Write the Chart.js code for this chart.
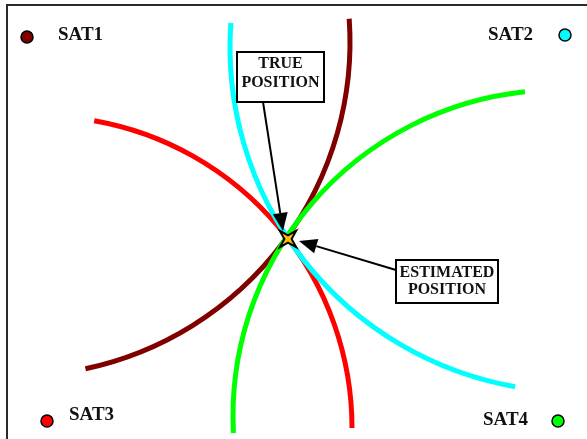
<!DOCTYPE html>
<html>
<head>
<meta charset="utf-8">
<script src="https://cdn.jsdelivr.net/npm/chart.js@4.4.1/dist/chart.umd.min.js"></script>
<style>
  html, body { margin: 0; padding: 0; background: #fff; }
  #wrap { width: 587px; height: 439px; position: relative; }
</style>
</head>
<body>
<div id="wrap"><canvas id="chartGps"></canvas></div>
<script>
// satellites (drawing units = picture pixels, y downwards)
const satNames = ["SAT1", "SAT2", "SAT3", "SAT4"];
const satX = [27, 565, 47, 558];
const satY = [37, 35, 421, 421];
const satColors = ["#800000", "#00FFFF", "#FF0000", "#00FF00"];

// range arcs: circle centre, radius and the visible part (degrees)
const arcCx = [16, 575, 40, 559];
const arcCy = [42, 47, 428, 416];
const arcR = [334, 345, 312, 326];
const arcFrom = [-4, 100, -80, 177];
const arcTo = [78, 184, 0, 264];
const arcOrder = [0, 2, 3, 1];

// estimated position
const estX = [288];
const estY = [239];

// label layout
const satLabelPos = [
  { x: 58, y: 40 }, { x: 488, y: 40 }, { x: 69, y: 420 }, { x: 483, y: 425 },
];
const boxes = [
  { x0: 237, y0: 52, x1: 324, y1: 102, lines: ["TRUE", "POSITION"], base: [68, 87],
    arrowFrom: [263, 102], arrowTo: [283, 231] },
  { x0: 396, y0: 260, x1: 498, y1: 303, lines: ["ESTIMATED", "POSITION"], base: [277, 294],
    arrowFrom: [396, 270], arrowTo: [299, 241] },
];

// star marker as point style
const star = document.createElement("canvas");
star.width = 26; star.height = 26;
(function () {
  const c = star.getContext("2d");
  const m = 13, tip = 11.5, inner = 3.6;
  c.beginPath();
  for (let k = 0; k < 8; k++) {
    const a = Math.PI / 4 + k * Math.PI / 4;
    const r = k % 2 === 0 ? tip : inner;
    const px = m + r * Math.cos(a), py = m + r * Math.sin(a);
    if (k === 0) c.moveTo(px, py); else c.lineTo(px, py);
  }
  c.closePath();
  c.fillStyle = "#FFC000";
  c.fill();
  c.lineWidth = 2;
  c.lineJoin = "miter";
  c.strokeStyle = "#000";
  c.stroke();
})();

function px(chart, x, y) {
  return [chart.scales.x.getPixelForValue(x), chart.scales.y.getPixelForValue(y)];
}

const gpsPlugin = {
  id: "gps",
  beforeDatasetsDraw(chart) {
    const ctx = chart.ctx;
    ctx.save();
    // frame
    ctx.strokeStyle = "#2b2b2b";
    ctx.lineWidth = 2;
    ctx.beginPath();
    let a = px(chart, 7, 439), b = px(chart, 7, 5), c = px(chart, 587, 5);
    ctx.moveTo(a[0], a[1]); ctx.lineTo(b[0], b[1]); ctx.lineTo(c[0], c[1]);
    ctx.stroke();
    // arcs
    ctx.lineWidth = 5;
    ctx.lineCap = "butt";
    arcOrder.forEach(i => {
      const p = px(chart, arcCx[i], arcCy[i]);
      const r = chart.scales.x.getPixelForValue(arcCx[i] + arcR[i]) - p[0];
      ctx.strokeStyle = satColors[i];
      ctx.beginPath();
      ctx.arc(p[0], p[1], r, arcFrom[i] * Math.PI / 180, arcTo[i] * Math.PI / 180, false);
      ctx.stroke();
    });
    ctx.restore();
  },
  afterDatasetsDraw(chart) {
    const ctx = chart.ctx;
    ctx.save();
    ctx.fillStyle = "#111";
    ctx.font = "bold 19px 'Liberation Serif', 'Times New Roman', serif";
    ctx.textBaseline = "alphabetic";
    ctx.textAlign = "left";
    satNames.forEach((n, i) => {
      const p = px(chart, satLabelPos[i].x, satLabelPos[i].y);
      ctx.fillText(n, p[0], p[1]);
    });
    boxes.forEach(bx => {
      const p0 = px(chart, bx.x0, bx.y0), p1 = px(chart, bx.x1, bx.y1);
      ctx.fillStyle = "#fff";
      ctx.fillRect(p0[0], p0[1], p1[0] - p0[0], p1[1] - p0[1]);
      ctx.strokeStyle = "#000";
      ctx.lineWidth = 2;
      ctx.strokeRect(p0[0], p0[1], p1[0] - p0[0], p1[1] - p0[1]);
      ctx.fillStyle = "#111";
      ctx.font = "bold 16px 'Liberation Serif', 'Times New Roman', serif";
      ctx.textAlign = "center";
      bx.lines.forEach((t, k) => {
        const q = px(chart, (bx.x0 + bx.x1) / 2, bx.base[k]);
        ctx.fillText(t, q[0], q[1], p1[0] - p0[0] - 6);
      });
      // arrow
      const f = px(chart, bx.arrowFrom[0], bx.arrowFrom[1]);
      const t = px(chart, bx.arrowTo[0], bx.arrowTo[1]);
      const ang = Math.atan2(t[1] - f[1], t[0] - f[0]);
      const hl = 18, hw = 7.5;
      const bxp = t[0] - hl * Math.cos(ang), byp = t[1] - hl * Math.sin(ang);
      ctx.strokeStyle = "#000";
      ctx.lineWidth = 2;
      ctx.beginPath();
      ctx.moveTo(f[0], f[1]);
      ctx.lineTo(bxp, byp);
      ctx.stroke();
      ctx.fillStyle = "#000";
      ctx.beginPath();
      ctx.moveTo(t[0], t[1]);
      ctx.lineTo(bxp + hw * Math.sin(ang), byp - hw * Math.cos(ang));
      ctx.lineTo(bxp - hw * Math.sin(ang), byp + hw * Math.cos(ang));
      ctx.closePath();
      ctx.fill();
    });
    ctx.restore();
  },
};

const chartGps = new Chart("chartGps", {
  type: "scatter",
  data: {
    datasets: [
      {
        label: "Satellites",
        data: satX.map((x, i) => ({ x: x, y: satY[i] })),
        backgroundColor: satColors,
        borderColor: "#000",
        borderWidth: 1.5,
        pointRadius: 6,
        pointHoverRadius: 6,
      },
      {
        label: "Estimated position",
        data: estX.map((x, i) => ({ x: x, y: estY[i] })),
        pointStyle: star,
      },
    ],
  },
  options: {
    responsive: true,
    maintainAspectRatio: false,
    animation: false,
    layout: { padding: 0, autoPadding: false },
    events: [],
    plugins: {
      legend: { display: false },
      tooltip: { enabled: false },
    },
    scales: {
      x: { type: "linear", min: 0, max: 587, display: false },
      y: { type: "linear", min: 0, max: 439, reverse: true, display: false },
    },
  },
  plugins: [gpsPlugin],
});
</script>
</body>
</html>
